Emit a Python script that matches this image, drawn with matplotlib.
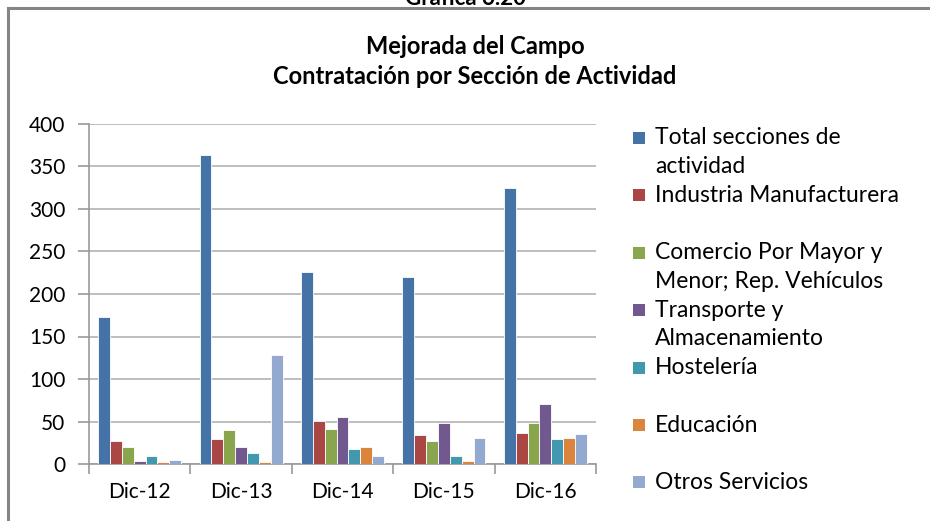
import numpy as np
import matplotlib.pyplot as plt
from matplotlib.patches import Rectangle
from matplotlib.lines import Line2D

plt.rcParams['font.family'] = ['Lato', 'DejaVu Sans']

categorias = ['Dic-12', 'Dic-13', 'Dic-14', 'Dic-15', 'Dic-16']
series = ['Total secciones de\nactividad',
          'Industria Manufacturera',
          'Comercio Por Mayor y\nMenor; Rep. Vehículos',
          'Transporte y\nAlmacenamiento',
          'Hostelería',
          'Educación',
          'Otros Servicios']
total = [173, 363, 226, 220, 325]
industria = [27, 30, 51, 34, 37]
comercio = [20, 40, 41, 27, 48]
transporte = [3, 20, 55, 48, 71]
hosteleria = [9, 13, 18, 9, 30]
educacion = [2, 2, 20, 3, 31]
otros = [5, 128, 9, 31, 35]
valores = [total, industria, comercio, transporte, hosteleria, educacion, otros]
colores = ['#4572A7', '#AA4643', '#89A54E', '#71588F', '#4198AF', '#DB843D', '#93A9CF']

W, H = 930, 521
fig = plt.figure(figsize=(W / 100, H / 100), dpi=100)
ax = fig.add_axes([89 / W, 1 - 464 / H, 507 / W, 340 / H])

x = np.arange(len(categorias))
ancho = 0.117
for j, (vals, col) in enumerate(zip(valores, colores)):
    ax.bar(x + (j - 3) * ancho, vals, ancho, color=col,
           edgecolor='#ffffff', linewidth=0.6, zorder=3)

ax.set_xlim(-0.5, 4.5)
ax.set_ylim(0, 400)
ax.set_yticks(range(0, 401, 50))
ax.yaxis.grid(True, color='#b3b3b3', linewidth=1.2, zorder=0)
ax.set_xticks(np.arange(-0.5, 5, 1))
ax.set_xticklabels([])
ax.set_xticks(x, minor=True)
ax.set_xticklabels(categorias, minor=True)
ax.tick_params(axis='x', which='minor', length=0, pad=13, labelsize=15)
ax.tick_params(axis='x', which='major', length=7, color='#999999', width=1.2)
ax.tick_params(axis='y', length=8, color='#999999', width=1.2, pad=9, labelsize=15)
for s in ['top', 'right']:
    ax.spines[s].set_visible(False)
for s in ['left', 'bottom']:
    ax.spines[s].set_color('#999999')
    ax.spines[s].set_linewidth(1.2)

# títulos
fig.text(475 / W, 1 - 46 / H, 'Mejorada del Campo', ha='center', va='center',
         fontsize=17, fontweight='bold')
fig.text(475 / W, 1 - 77 / H, 'Contratación por Sección de Actividad', ha='center',
         va='center', fontsize=17, fontweight='bold')
fig.text(465 / W, 1 - 5 / H, 'Gráfica 6.20', ha='center', va='baseline',
         fontsize=16, fontweight='bold')

# marco
fig.add_artist(Line2D([8 / W, 8 / W], [0, 1 - 8 / H], color='#858585', linewidth=2.2))
fig.add_artist(Line2D([8 / W, 1], [1 - 8 / H, 1 - 8 / H], color='#858585', linewidth=2.2))

# leyenda
paso = 28.7
for j, (nombre, col) in enumerate(zip(series, colores)):
    y0 = 138 + j * 2 * paso
    fig.add_artist(Rectangle((633 / W, 1 - (y0 + 6) / H), 12 / W, 12 / H,
                             facecolor=col, edgecolor='none'))
    for k, linea in enumerate(nombre.split('\n')):
        fig.text(655 / W, 1 - (y0 + k * paso) / H, linea, ha='left', va='center',
                 fontsize=16.5)

fig.savefig('out.png', dpi=100)
